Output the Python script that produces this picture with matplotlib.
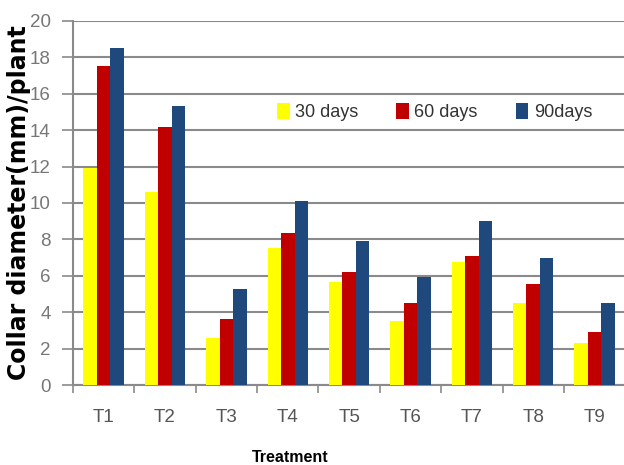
import numpy as np
import matplotlib.pyplot as plt

treatments = ["T1", "T2", "T3", "T4", "T5", "T6", "T7", "T8", "T9"]
days_30 = [11.9, 10.6, 2.6, 7.5, 5.65, 3.5, 6.75, 4.5, 2.3]
days_60 = [17.5, 14.2, 3.6, 8.35, 6.2, 4.5, 7.1, 5.55, 2.9]
days_90 = [18.5, 15.3, 5.3, 10.1, 7.9, 5.95, 9.0, 7.0, 4.5]
series_names = ["30 days", "60 days", "90days"]
yticks = [0, 2, 4, 6, 8, 10, 12, 14, 16, 18, 20]

colors = ["#ffff00", "#c00000", "#1f497d"]
grid_col = "#8a8a8a"
font = "Liberation Sans"

fig = plt.figure(figsize=(6.24, 4.65), dpi=100)
ax = fig.add_axes([0.117, 0.172, 0.885, 0.783])

x = np.arange(len(treatments))
w = 0.22
for i, vals in enumerate([days_30, days_60, days_90]):
    ax.bar(x + (i - 1) * w, vals, w, color=colors[i], label=series_names[i], zorder=3)

ax.set_ylim(0, 20)
ax.set_xlim(-0.5, len(treatments) - 0.5)
ax.set_yticks(yticks)
ax.set_yticklabels([str(v) for v in yticks], fontfamily=font, fontsize=13.5, color="#777777")
ax.yaxis.grid(True, color=grid_col, linewidth=1.5, zorder=0)

# category labels in the middle, tick marks on the group boundaries
ax.set_xticks(x)
ax.set_xticklabels(treatments, fontfamily=font, fontsize=13.5, color="#555555")
ax.tick_params(axis="x", which="major", length=0, pad=17)
ax.set_xticks(np.arange(len(treatments)) - 0.5, minor=True)
ax.tick_params(axis="x", which="minor", length=6, width=1.2, color=grid_col)
ax.tick_params(axis="y", length=8, width=1.2, color=grid_col, pad=8)

for s in ["top", "right"]:
    ax.spines[s].set_visible(False)
for s in ["left", "bottom"]:
    ax.spines[s].set_color(grid_col)
    ax.spines[s].set_linewidth(1.5)

ax.set_ylabel("Collar diameter(mm)/plant", fontsize=17, fontweight="bold")
ax.yaxis.set_label_coords(-0.076, 0.5)
fig.text(0.465, 0.006, "Treatment", fontfamily=font, fontsize=11.5, fontweight="bold", ha="center")

leg = ax.legend(loc="center left", bbox_to_anchor=(0.34, 0.75), ncol=3, frameon=False,
                handlelength=0.7, handleheight=1.0, handletextpad=0.3, columnspacing=2.1,
                prop={"family": font, "size": 13})
for t in leg.get_texts():
    t.set_color("#333333")

fig.savefig("out.png", dpi=100)
